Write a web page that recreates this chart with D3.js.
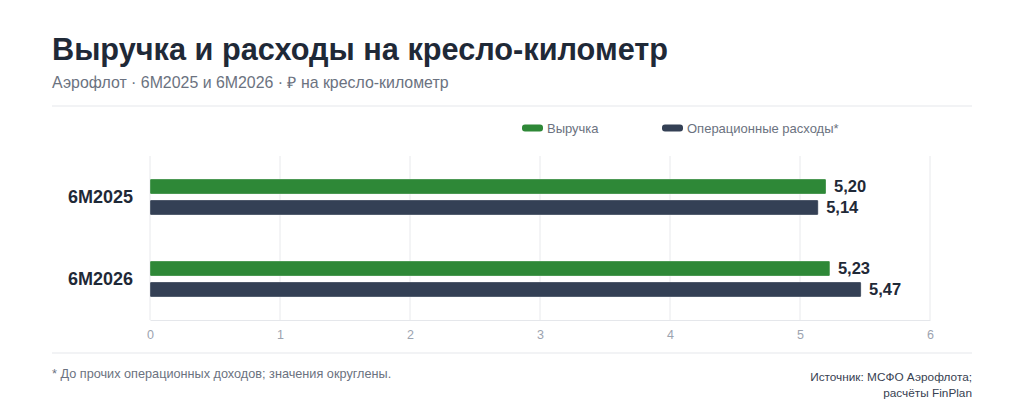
<!DOCTYPE html>
<html>
<head>
<meta charset="utf-8">
<script src="https://cdn.jsdelivr.net/npm/d3@7"></script>
<style>
  body { margin: 0; background: #fff; }
  svg { display: block; font-family: "Liberation Sans", Arial, sans-serif; }
</style>
</head>
<body>
<svg id="chart"></svg>
<script>
// data
const periods = ["6M2025", "6M2026"];
const seriesNames = ["Выручка", "Операционные расходы*"];
const revenue = [5.20, 5.23];
const opex = [5.14, 5.47];
const xTicks = [0, 1, 2, 3, 4, 5, 6];

const colors = ["#2e8837", "#344055"];
const fmt = v => d3.format(".2f")(v).replace(".", ",");

const svg = d3.select("#chart").attr("width", 1024).attr("height", 410);

// header
svg.append("text").attr("x", 52).attr("y", 60)
  .attr("font-size", 30.7).attr("font-weight", "bold").attr("fill", "#1f2937")
  .text("Выручка и расходы на кресло-километр");
svg.append("text").attr("x", 52).attr("y", 88)
  .attr("font-size", 15.9).attr("fill", "#6b7280")
  .text("Аэрофлот · 6М2025 и 6М2026 · ₽ на кресло-километр");
svg.append("line").attr("x1", 52).attr("x2", 972).attr("y1", 106).attr("y2", 106)
  .attr("stroke", "#e5e7eb");

// legend
const legendX = [522, 662];
seriesNames.forEach((name, i) => {
  const g = svg.append("g").attr("transform", `translate(${legendX[i]},128)`);
  g.append("rect").attr("x", 0).attr("y", -3.5).attr("width", 21).attr("height", 7)
    .attr("rx", 3).attr("fill", colors[i]);
  g.append("text").attr("x", 25).attr("y", 0).attr("dy", "0.35em")
    .attr("font-size", 13).attr("fill", "#6b7280").text(name);
});

// scales
const x = d3.scaleLinear().domain([0, 6]).range([150, 930]);
const y = d3.scaleBand().domain(periods).range([156, 320]);
const inner = d3.scaleBand().domain(seriesNames).range([-18, 18]).paddingInner(0.28);

// grid
svg.append("g").selectAll("line").data(xTicks).join("line")
  .attr("x1", d => x(d)).attr("x2", d => x(d))
  .attr("y1", 156).attr("y2", 320)
  .attr("stroke", "#e8e9ec");

// x axis
const xAxis = svg.append("g").attr("transform", "translate(0,320)")
  .call(d3.axisBottom(x).tickValues(xTicks).tickFormat(d3.format("d")).tickSize(0).tickPadding(10));
xAxis.select(".domain").attr("stroke", "#e5e7eb");
xAxis.selectAll("text").attr("font-size", 12.5).attr("fill", "#9ca3af")
  .attr("font-family", "Liberation Sans, Arial, sans-serif");

// bars
const rows = periods.map((p, i) => ({ p, vals: [revenue[i], opex[i]] }));
const groups = svg.append("g").selectAll("g").data(rows).join("g")
  .attr("transform", d => `translate(0,${y(d.p) + y.bandwidth() / 2})`);

groups.selectAll("rect").data(d => d.vals.map((v, i) => ({ v, s: seriesNames[i], i }))).join("rect")
  .attr("x", x(0)).attr("y", d => inner(d.s))
  .attr("width", d => x(d.v) - x(0)).attr("height", inner.bandwidth())
  .attr("rx", 1).attr("fill", d => colors[d.i])
  .attr("stroke", "#fff").attr("stroke-opacity", 0.4).attr("stroke-width", 0.8);

groups.selectAll("text.val").data(d => d.vals.map((v, i) => ({ v, s: seriesNames[i] }))).join("text")
  .attr("class", "val")
  .attr("x", d => x(d.v) + 8).attr("y", d => inner(d.s) + inner.bandwidth() / 2)
  .attr("dy", "0.36em").attr("font-size", 16.5).attr("font-weight", "bold").attr("fill", "#1f2937")
  .text(d => fmt(d.v));

// category labels
groups.append("text").attr("x", 133).attr("y", 0).attr("dy", "0.36em")
  .attr("text-anchor", "end").attr("font-size", 18).attr("font-weight", "bold").attr("fill", "#1f2937")
  .text(d => d.p);

// footer
svg.append("line").attr("x1", 52).attr("x2", 972).attr("y1", 353).attr("y2", 353)
  .attr("stroke", "#e5e7eb");
svg.append("text").attr("x", 52).attr("y", 378)
  .attr("font-size", 12.7).attr("fill", "#6b7280")
  .text("* До прочих операционных доходов; значения округлены.");
svg.append("text").attr("x", 972).attr("y", 381).attr("text-anchor", "end")
  .attr("font-size", 11.8).attr("fill", "#374151")
  .text("Источник: МСФО Аэрофлота;");
svg.append("text").attr("x", 972).attr("y", 397).attr("text-anchor", "end")
  .attr("font-size", 11.8).attr("fill", "#374151")
  .text("расчёты FinPlan");
</script>
</body>
</html>
